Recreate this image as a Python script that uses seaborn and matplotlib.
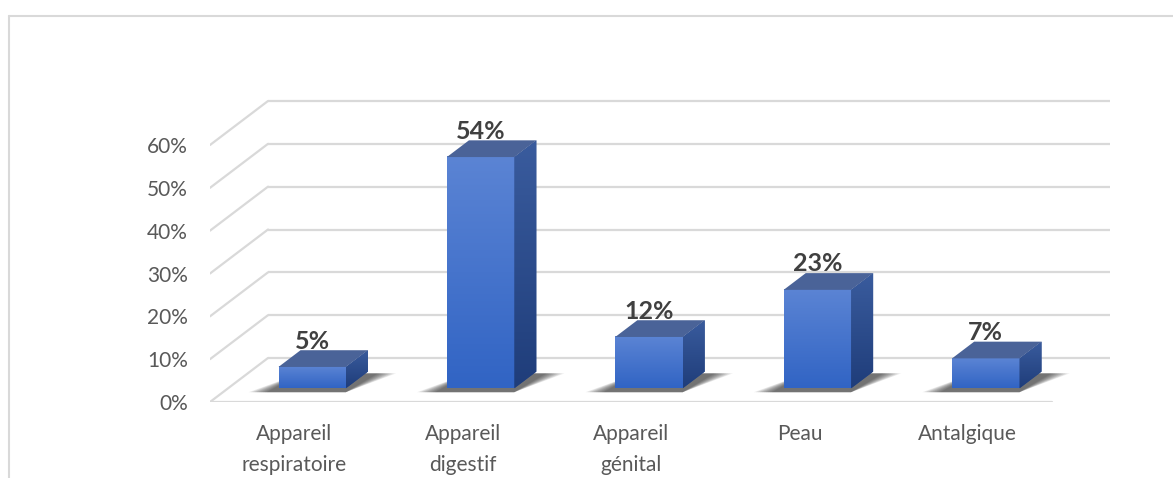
import numpy as np
import matplotlib
matplotlib.use('Agg')
import matplotlib.pyplot as plt
import matplotlib.transforms as mtransforms
from matplotlib.patches import Polygon
from matplotlib.lines import Line2D
from matplotlib.colors import LinearSegmentedColormap
import seaborn as sns

# data
categories = ["Appareil respiratoire", "Appareil digestif", "Appareil génital", "Peau", "Antalgique"]
tick_labels = ["Appareil\nrespiratoire", "Appareil\ndigestif", "Appareil\ngénital", "Peau", "Antalgique"]
values = [0.05, 0.54, 0.12, 0.23, 0.07]
value_labels = ["5%", "54%", "12%", "23%", "7%"]
y_ticks = [0, 0.1, 0.2, 0.3, 0.4, 0.5, 0.6]
y_tick_labels = ["0%", "10%", "20%", "30%", "40%", "50%", "60%"]

sns.set_theme(style="white")
plt.rcParams['font.family'] = ['Lato', 'DejaVu Sans']

W, H = 1173, 478
fig = plt.figure(figsize=(W / 100, H / 100), dpi=100)
fig.patch.set_facecolor("white")

# front plane of the floor: x -0.5..4.5 -> 210..1052 px, y 0..0.6 -> 402..145 px
px_x = (1052 - 210) / 5
px_y = (402 - 145) / 0.6
xmin, xmax, ymin, ymax = -0.5, 4.9, 0, 0.72
ax = fig.add_axes([210 / W, (H - 402) / H, (xmax - xmin) * px_x / W, (ymax - ymin) * px_y / H])

# depth direction (oblique projection)
DX = 58 / px_x
DY = 44 / px_y
d1, d2 = 0.31, 0.69

grid_col = "#D9D9D9"
# back wall + left wall lines
for v in y_ticks:
    ax.plot([-0.5 + DX, 4.5 + DX], [v + DY, v + DY], color=grid_col, lw=1.6, zorder=1, solid_capstyle='butt')
    ax.plot([-0.5, -0.5 + DX], [v, v + DY], color=grid_col, lw=1.6, zorder=1)
# floor front edge
ax.plot([-0.5, 4.5], [0, 0], color=grid_col, lw=1.6, zorder=1)

sns.barplot(x=categories, y=values, width=0.4, color="#4472C4", ax=ax, zorder=3)

front_cmap = LinearSegmentedColormap.from_list("front", ["#3164C4", "#5B84D4"])
side_cmap = LinearSegmentedColormap.from_list("side", ["#1F3D7A", "#3A5C9E"])
grad = np.linspace(0, 1, 256).reshape(-1, 1)

for patch, lab in zip(ax.patches, value_labels):
    x0 = patch.get_x()
    w = patch.get_width()
    h = patch.get_height()
    patch.set_transform(mtransforms.Affine2D().translate(d1 * DX, d1 * DY) + ax.transData)
    patch.set_edgecolor("none")

    # soft shadow on the floor
    for k in range(10):
        e = 0.012 * (9 - k)
        shadow = Polygon([
            (x0 + d1 * DX - 0.07 - e, d1 * DY - 0.009),
            (x0 + w + d1 * DX, d1 * DY - 0.009),
            (x0 + w + d2 * DX + 0.06 + e, d2 * DY - 0.004),
            (x0 + d2 * DX, d2 * DY - 0.004),
        ], closed=True, facecolor="black", edgecolor="none", alpha=0.075, zorder=2)
        ax.add_patch(shadow)

    # front face gradient
    ax.imshow(grad, extent=[x0 + d1 * DX, x0 + w + d1 * DX, d1 * DY, h + d1 * DY],
              origin='lower', cmap=front_cmap, aspect='auto', zorder=3.1)

    # side face
    xr = x0 + w
    side = Polygon([
        (xr + d1 * DX, d1 * DY), (xr + d2 * DX, d2 * DY),
        (xr + d2 * DX, h + d2 * DY), (xr + d1 * DX, h + d1 * DY),
    ], closed=True, facecolor="#2B4C8C", edgecolor="none", zorder=3)
    ax.add_patch(side)
    im = ax.imshow(grad, extent=[xr + d1 * DX, xr + d2 * DX, d1 * DY, h + d2 * DY],
                   origin='lower', cmap=side_cmap, aspect='auto', zorder=3.1)
    im.set_clip_path(side)

    # top face
    top = Polygon([
        (x0 + d1 * DX, h + d1 * DY), (xr + d1 * DX, h + d1 * DY),
        (xr + d2 * DX, h + d2 * DY), (x0 + d2 * DX, h + d2 * DY),
    ], closed=True, facecolor="#4A6398", edgecolor="none", zorder=3.2)
    ax.add_patch(top)

    ax.text(x0 + w / 2 + d1 * DX, h + d2 * DY + 0.004, lab, ha='center', va='baseline',
            fontsize=18, fontweight='bold', color="#404040", zorder=5)

ax.set_xlim(xmin, xmax)
ax.set_ylim(ymin, ymax)
ax.set_yticks(y_ticks, y_tick_labels)
ax.set_xticks(range(len(categories)), tick_labels)
ax.tick_params(axis='y', length=0, pad=16, labelsize=15, labelcolor="#595959")
ax.tick_params(axis='x', length=0, pad=16, labelsize=15, labelcolor="#595959")
for t in ax.get_xticklabels():
    t.set_linespacing(1.65)
ax.set_xlabel("")
ax.set_ylabel("")
for s in ax.spines.values():
    s.set_visible(False)
ax.set_facecolor("none")

# chart area border
fig.add_artist(Line2D([9 / W, 9 / W], [0, (H - 16) / H], color="#D9D9D9", lw=1.5))
fig.add_artist(Line2D([9 / W, 1], [(H - 16) / H, (H - 16) / H], color="#D9D9D9", lw=1.5))

fig.savefig("out.png", dpi=100)
